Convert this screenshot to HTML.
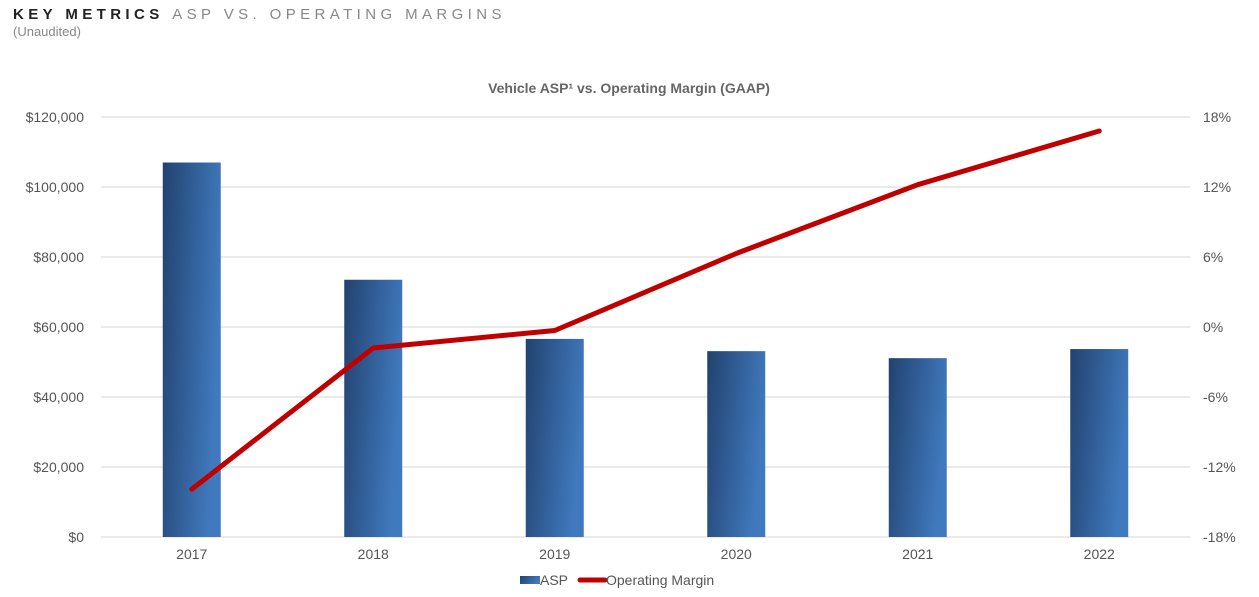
<!DOCTYPE html>
<html><head><meta charset="utf-8"><style>
body{margin:0;width:1259px;height:597px;background:#fff;font-family:"Liberation Sans",sans-serif;overflow:hidden}
svg{display:block}
</style></head><body>
<svg id="c" width="1259" height="597">
<defs><linearGradient id="bg" x1="0" y1="0" x2="1" y2="0.3"><stop offset="0" stop-color="#22426f"/><stop offset="1" stop-color="#4079bd"/></linearGradient></defs>
<text x="13" y="19" font-size="15" font-weight="bold" fill="#222" letter-spacing="4.4">KEY METRICS <tspan font-weight="normal" fill="#888">ASP VS. OPERATING MARGINS</tspan></text>
<text x="13" y="36" font-size="13" fill="#888">(Unaudited)</text>
<text x="629" y="93" font-size="14" font-weight="bold" fill="#666" text-anchor="middle">Vehicle ASP¹ vs. Operating Margin (GAAP)</text>
<g id="grid"></g><g id="bars"></g><g id="line"></g><g id="ax"></g>
<g>
<rect x="520" y="576" width="20" height="8" fill="url(#bg)"/>
<text x="540" y="585" font-size="14" fill="#555">ASP</text>
<line x1="580" y1="580" x2="605" y2="580" stroke="#c00000" stroke-width="5" stroke-linecap="round"/>
<text x="606" y="585" font-size="14" fill="#555">Operating Margin</text>
</g>
</svg>
<script>
const categories=["2017","2018","2019","2020","2021","2022"];
const aspValues=[107000,73500,56600,53100,51100,53700];
const marginValues=[-13.9,-1.8,-0.3,6.3,12.2,16.8];
const leftTicks=[0,20000,40000,60000,80000,100000,120000];
const rightTicks=[-18,-12,-6,0,6,12,18];
const NS="http://www.w3.org/2000/svg";
const yTop=117,yBot=537,x0=101,x1=1190,band=(x1-x0)/categories.length;
const yL=v=>yBot-(v/120000)*(yBot-yTop);
const yR=v=>yBot-((v+18)/36)*(yBot-yTop);
const xC=i=>x0+band*(i+0.5);
function mk(t,a,p){const e=document.createElementNS(NS,t);for(const k in a)e.setAttribute(k,a[k]);p.appendChild(e);return e;}
const G=document.getElementById('grid'),B=document.getElementById('bars'),L=document.getElementById('line'),A=document.getElementById('ax');
leftTicks.forEach(v=>{
 const g=mk('line',{x1:x0,x2:x1,y1:yL(v),y2:yL(v),stroke:'#e3e3e3','stroke-width':1.5},G);
 
 
 const t=mk('text',{x:84,y:yL(v)+5,'font-size':14,fill:'#555','text-anchor':'end'},A);
 t.textContent='$'+v.toLocaleString('en-US');
 
 
});
rightTicks.forEach(v=>{
 const t=mk('text',{x:1203,y:yR(v)+5,'font-size':14,fill:'#555'},A);
 t.textContent=v+'%';
 
 
});
categories.forEach((c,i)=>{
 const r=mk('rect',{x:xC(i)-29,y:yL(aspValues[i]),width:58,height:yBot-yL(aspValues[i]),fill:'url(#bg)'},B);
 
 
 const t=mk('text',{x:xC(i),y:559,'font-size':14,fill:'#555','text-anchor':'middle'},A);
 t.textContent=c;
 
 
});
const pl=mk('polyline',{points:marginValues.map((v,i)=>xC(i)+','+yR(v)).join(' '),fill:'none',stroke:'#c00000','stroke-width':5,'stroke-linejoin':'round','stroke-linecap':'round'},L);


</script>
</body></html>
